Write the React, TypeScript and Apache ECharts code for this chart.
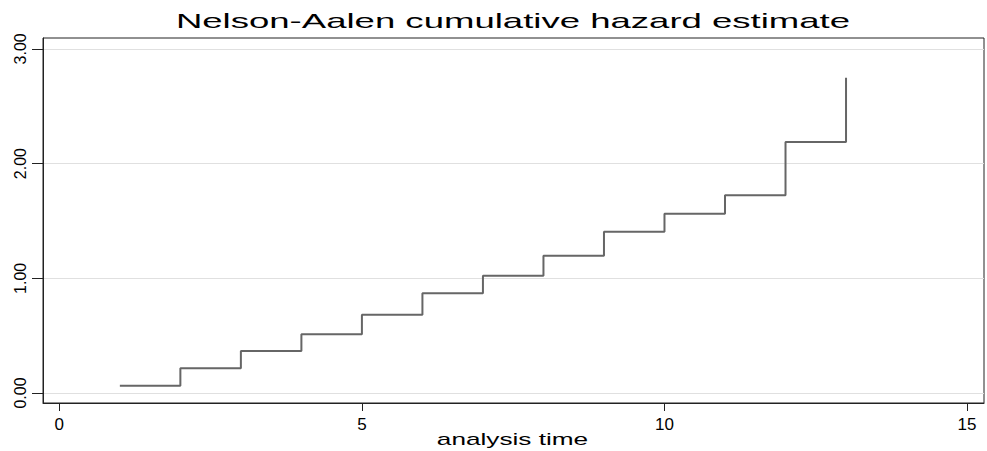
import React, { useEffect, useRef } from "react";
import * as echarts from "echarts";

const title = "Nelson-Aalen cumulative hazard estimate";
const xTitle = "analysis time";
const times = [1, 2, 3, 4, 5, 6, 7, 8, 9, 10, 11, 12, 13];
const hazard = [0.064, 0.215, 0.366, 0.512, 0.683, 0.869, 1.023, 1.197, 1.406, 1.563, 1.724, 2.188, 2.749];
const xTicks = [0, 5, 10, 15];
const yTicks = [0, 1, 2, 3];

export default function App() {
  const ref = useRef<HTMLDivElement>(null);
  useEffect(() => {
    const chart = echarts.init(ref.current!, null, { renderer: "svg" });
    chart.setOption({
      animation: false,
      backgroundColor: "#ffffff",
      grid: {
        left: 43,
        right: 3,
        top: 38,
        bottom: 48,
        show: true,
        borderColor: "#222",
        borderWidth: 1,
        backgroundColor: "transparent",
      },
      graphic: [
        {
          type: "text",
          x: 513,
          y: 20.5,
          scaleX: 1.74,
          style: {
            text: title,
            fontSize: 21,
            fontFamily: "Liberation Sans",
            fill: "#000",
            textAlign: "center",
            textVerticalAlign: "middle",
          },
        },
        {
          type: "text",
          x: 512.5,
          y: 439,
          scaleX: 1.54,
          style: {
            text: xTitle,
            fontSize: 17,
            fontFamily: "Liberation Sans",
            fill: "#000",
            textAlign: "center",
            textVerticalAlign: "middle",
          },
        },
      ],
      xAxis: {
        type: "value",
        min: -0.27,
        max: 15.28,
        axisLine: { show: true, onZero: false, lineStyle: { color: "#222", width: 1 } },
        axisTick: { show: true, length: 8, customValues: xTicks, lineStyle: { color: "#222" } },
        axisLabel: {
          customValues: xTicks,
          fontSize: 17,
          fontFamily: "Liberation Sans",
          color: "#000",
          margin: 13,
        },
        splitLine: { show: false },
      },
      yAxis: {
        type: "value",
        min: -0.087,
        max: 3.095,
        axisLine: { show: true, onZero: false, lineStyle: { color: "#222", width: 1 } },
        axisTick: { show: true, length: 11, customValues: yTicks, lineStyle: { color: "#222" } },
        axisLabel: {
          customValues: yTicks,
          rotate: 90,
          fontSize: 16,
          fontFamily: "Liberation Sans",
          color: "#000",
          margin: 15,
          formatter: (v: number) => v.toFixed(2),
        },
        splitLine: { show: true, lineStyle: { color: "#e0e0e0", width: 1 } },
      },
      series: [
        {
          type: "line",
          step: "end",
          data: times.map((t, i) => [t, hazard[i]]),
          showSymbol: false,
          symbol: "none",
          lineStyle: { color: "#666666", width: 2 },
        },
      ],
    });
    return () => chart.dispose();
  }, []);
  return <div ref={ref} style={{ position: "fixed", left: 0, top: 0, width: 987, height: 451 }} />;
}
